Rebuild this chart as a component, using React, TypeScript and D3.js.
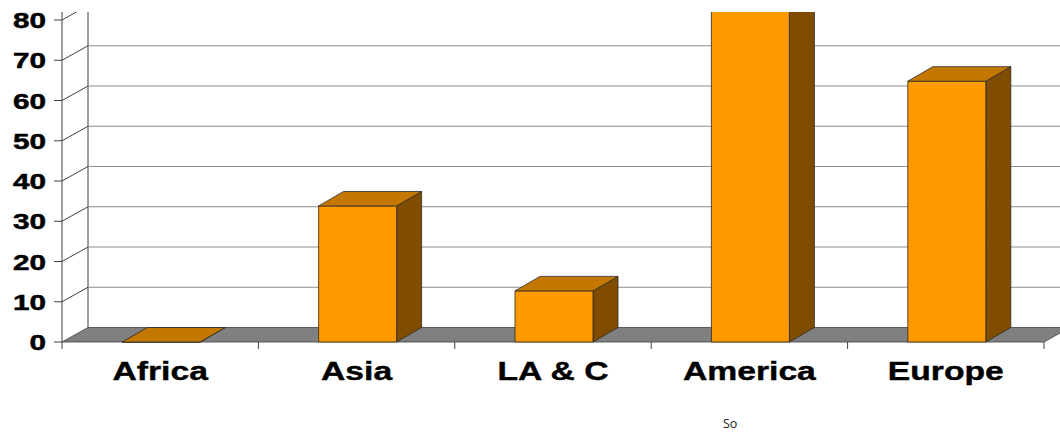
import React from "react";
import * as d3 from "d3";

const categories = ["Africa", "Asia", "LA & C", "America", "Europe"];
const values = [0, 33.8, 12.7, 95, 64.8];
const yTicks = [0, 10, 20, 30, 40, 50, 60, 70, 80];
const footnote = "So";

const W = 1060;
const H = 435;
const X0 = 62;
const X1 = 1044;
const Y0 = 342;
const DX = 26;
const DY = -14.5;
const BDX = 25;
const BDY = -14.5;
const CLIP_TOP = 12;

export default function App() {
  const y = d3.scaleLinear().domain([0, 80]).range([Y0, Y0 - 322]);
  const x = d3.scaleBand<string>().domain(categories).range([X0, X1]).paddingInner(0).paddingOuter(0);
  const step = x.bandwidth();
  const barW = 78;

  const floor = [
    [X0, Y0],
    [X0 + DX, Y0 + DY],
    [X1 + DX, Y0 + DY],
    [X1, Y0],
  ];
  const pts = (p: number[][]) => p.map((q) => q.join(",")).join(" ");

  return (
    <svg width={W} height={H} style={{ position: "absolute", left: 0, top: 0, background: "#fff" }}>
      <defs>
        <clipPath id="clipTop">
          <rect x={0} y={CLIP_TOP} width={W} height={H} />
        </clipPath>
      </defs>
      <g clipPath="url(#clipTop)">
        <polygon points={pts(floor)} fill="#808080" stroke="#404040" strokeWidth={0.8} />
        <line x1={X0 + DX} x2={X0 + DX} y1={0} y2={Y0 + DY} stroke="#404040" strokeWidth={1} />
        {yTicks.filter((v) => v > 0).concat([90]).map((v) => (
          <g key={v}>
            <line x1={X0 + DX} x2={X1 + DX} y1={y(v) + DY} y2={y(v) + DY} stroke="#8c8c8c" strokeWidth={1} />
            <line x1={X0} x2={X0 + DX} y1={y(v)} y2={y(v) + DY} stroke="#404040" strokeWidth={1} />
          </g>
        ))}
        {categories.map((c, i) => {
          const cx = (x(c) as number) + step / 2 + 1;
          const l = cx - barW / 2;
          const r = cx + barW / 2;
          const t = y(values[i]);
          const front = [[l, t], [r, t], [r, Y0], [l, Y0]];
          const side = [[r, Y0], [r + BDX, Y0 + BDY], [r + BDX, t + BDY], [r, t]];
          const top = [[l, t], [l + BDX, t + BDY], [r + BDX, t + BDY], [r, t]];
          return (
            <g key={c}>
              <polygon points={pts(side)} fill="#804C00" stroke="#2a2a2a" strokeWidth={0.8} />
              <polygon points={pts(front)} fill="#FF9900" stroke="#2a2a2a" strokeWidth={0.8} />
              <polygon points={pts(top)} fill="#C47800" stroke="#2a2a2a" strokeWidth={0.8} />
            </g>
          );
        })}
        <line x1={X0} x2={X0} y1={0} y2={Y0 + 7} stroke="#404040" strokeWidth={1} />
        {yTicks.map((v) => (
          <line key={v} x1={X0 - 8} x2={X0} y1={y(v)} y2={y(v)} stroke="#404040" strokeWidth={1} />
        ))}
        {categories.map((c) => {
          const tx = (x(c) as number) + step;
          return <line key={c} x1={tx} x2={tx} y1={Y0} y2={Y0 + 7} stroke="#404040" strokeWidth={1} />;
        })}
      </g>
      {yTicks.map((v) => (
        <text
          key={v}
          transform={`translate(46, ${y(v) + 8}) scale(1.35,1)`}
          textAnchor="end"
          fontFamily="'Liberation Sans', Arial, sans-serif"
          fontWeight="bold"
          fontSize={22}
          fill="#000"
          stroke="#000"
          strokeWidth={0.5}
        >
          {v}
        </text>
      ))}
      {categories.map((c) => (
        <text
          key={c}
          transform={`translate(${(x(c) as number) + step / 2}, 380) scale(1.32,1)`}
          textAnchor="middle"
          fontFamily="'Liberation Sans', Arial, sans-serif"
          fontWeight="bold"
          fontSize={25.5}
          fill="#000"
          stroke="#000"
          strokeWidth={0.4}
        >
          {c}
        </text>
      ))}
      <text x={723} y={428} fontFamily="'Open Sans', sans-serif" fontSize={12.5} fill="#222">
        {footnote}
      </text>
    </svg>
  );
}
